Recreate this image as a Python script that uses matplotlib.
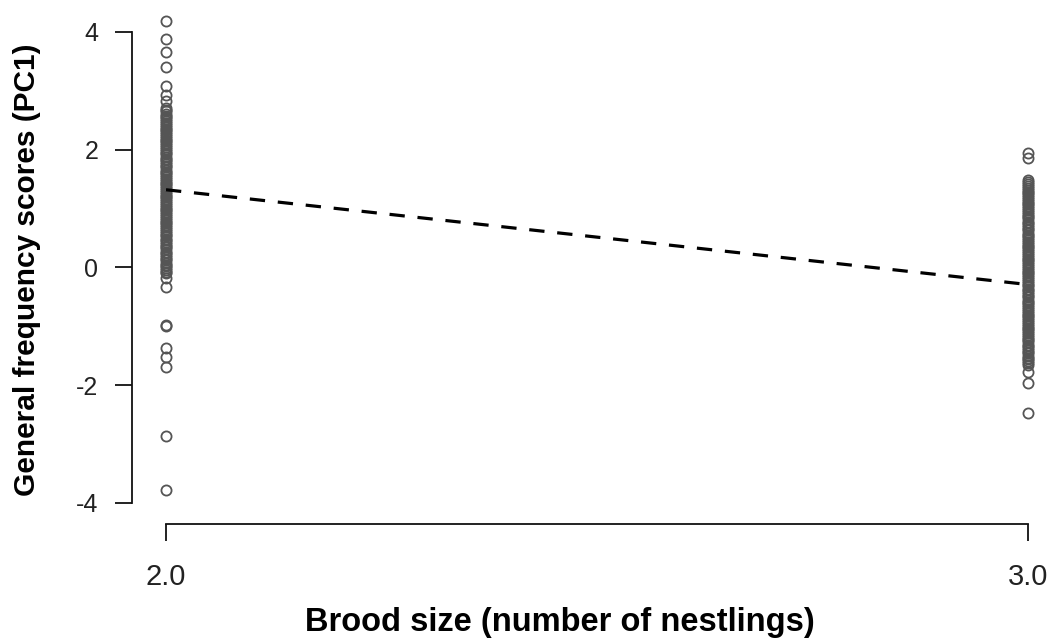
import matplotlib
matplotlib.use("Agg")
import matplotlib.pyplot as plt

# brood size groups
brood = [2.0, 3.0]

# PC1 scores, two-nestling broods
pc1_b2 = [4.19, 3.88, 3.66, 3.41, 3.08, 2.93, 2.83,
          2.71, 2.68, 2.65, 2.61, 2.58, 2.55, 2.52, 2.49, 2.45, 2.42, 2.39, 2.36,
          2.33, 2.30, 2.27, 2.23, 2.20, 2.17, 2.14, 2.11, 2.08, 2.04, 2.01, 1.98,
          1.95, 1.92, 1.88, 1.85, 1.82, 1.79, 1.76, 1.73, 1.70, 1.66, 1.63, 1.60,
          1.57, 1.54, 1.50, 1.47, 1.44, 1.41, 1.38, 1.35, 1.32, 1.29, 1.25, 1.22,
          1.19, 1.16, 1.13, 1.10, 1.06, 1.03, 1.00, 0.97, 0.94, 0.91, 0.87, 0.84,
          0.81, 0.78, 0.75, 0.72, 0.68, 0.65, 0.62, 0.59, 0.56, 0.53, 0.49, 0.46,
          0.43, 0.40, 0.37, 0.34, 0.31, 0.27, 0.24, 0.21, 0.18, 0.15, 0.12, 0.08,
          0.05, 0.02, -0.01, -0.04, -0.07, -0.09, -0.18, -0.33,
          -0.97, -0.99, -1.37, -1.52, -1.69, -2.86, -3.78]

# PC1 scores, three-nestling broods
pc1_b3 = [1.94, 1.86, 1.48, 1.45, 1.42, 1.39, 1.35, 1.32, 1.29, 1.26, 1.23, 1.20,
          1.16, 1.13, 1.10, 1.07, 1.04, 1.01, 0.97, 0.94, 0.91, 0.88, 0.85, 0.82,
          0.78, 0.75, 0.72, 0.69, 0.66, 0.63, 0.59, 0.56, 0.53, 0.50, 0.47, 0.44,
          0.40, 0.37, 0.34, 0.31, 0.28, 0.25, 0.21, 0.18, 0.15, 0.12, 0.09, 0.06,
          0.02, -0.01, -0.04, -0.07, -0.10, -0.13, -0.17, -0.20, -0.23, -0.26,
          -0.29, -0.32, -0.36, -0.39, -0.42, -0.45, -0.48, -0.51, -0.55, -0.58,
          -0.61, -0.64, -0.67, -0.70, -0.74, -0.77, -0.80, -0.83, -0.86, -0.89,
          -0.93, -0.96, -0.99, -1.02, -1.05, -1.08, -1.12, -1.15, -1.18, -1.21,
          -1.24, -1.27, -1.31, -1.34, -1.37, -1.40, -1.43, -1.46, -1.50, -1.53,
          -1.56, -1.59, -1.62, -1.66, -1.77, -1.96, -2.47]

# fitted line
fit_y = [1.32, -0.29]

xticks = [2.0, 3.0]
xticklabels = ["2.0", "3.0"]
yticks = [-4, -2, 0, 2, 4]

plt.rcParams["font.family"] = ["Liberation Sans", "DejaVu Sans"]

W, H = 1052, 639
fig = plt.figure(figsize=(W / 100, H / 100), dpi=100)

# plot region in pixels (R-style box, 4% padding round the data)
left_px, right_px = 131.5, 1062.6
top_px, bottom_px = 8.0, 524.0
ax = fig.add_axes([left_px / W, 1 - bottom_px / H,
                   (right_px - left_px) / W, (bottom_px - top_px) / H])
ax.set_xlim(1.96, 3.04)
ax.set_ylim(-4.357, 4.407)

pt_style = dict(linestyle="none", marker="o", markersize=7.3,
                markerfacecolor="none", markeredgecolor="#555555",
                markeredgewidth=1.3)
ax.plot([brood[0]] * len(pc1_b2), pc1_b2, **pt_style)
ax.plot([brood[1]] * len(pc1_b3), pc1_b3, **pt_style)

ax.plot(brood, fit_y, color="black", linewidth=2.3, dashes=(4.8, 4.0),
        solid_capstyle="butt", dash_capstyle="butt")

for s in ["top", "right"]:
    ax.spines[s].set_visible(False)
ax.spines["left"].set_bounds(-4, 4)
ax.spines["bottom"].set_bounds(2, 3)
for s in ["left", "bottom"]:
    ax.spines[s].set_linewidth(1.3)
    ax.spines[s].set_color("#111111")

ax.set_xticks(xticks, labels=xticklabels)
ax.set_yticks(yticks, labels=[str(v) for v in yticks])
ax.tick_params(axis="both", length=12, width=1.3, color="#111111",
               labelcolor="#222222")
ax.tick_params(axis="y", pad=12, labelsize=18)
ax.tick_params(axis="x", pad=16, labelsize=21)

fig.text(560 / W, 1 - 622 / H, "Brood size (number of nestlings)",
         ha="center", va="center", fontsize=23.5, fontweight="bold")
fig.text(27 / W, 1 - 270 / H, "General frequency scores (PC1)",
         ha="center", va="center", rotation=90, fontsize=21.5, fontweight="bold")

fig.savefig("out.png", dpi=100)
